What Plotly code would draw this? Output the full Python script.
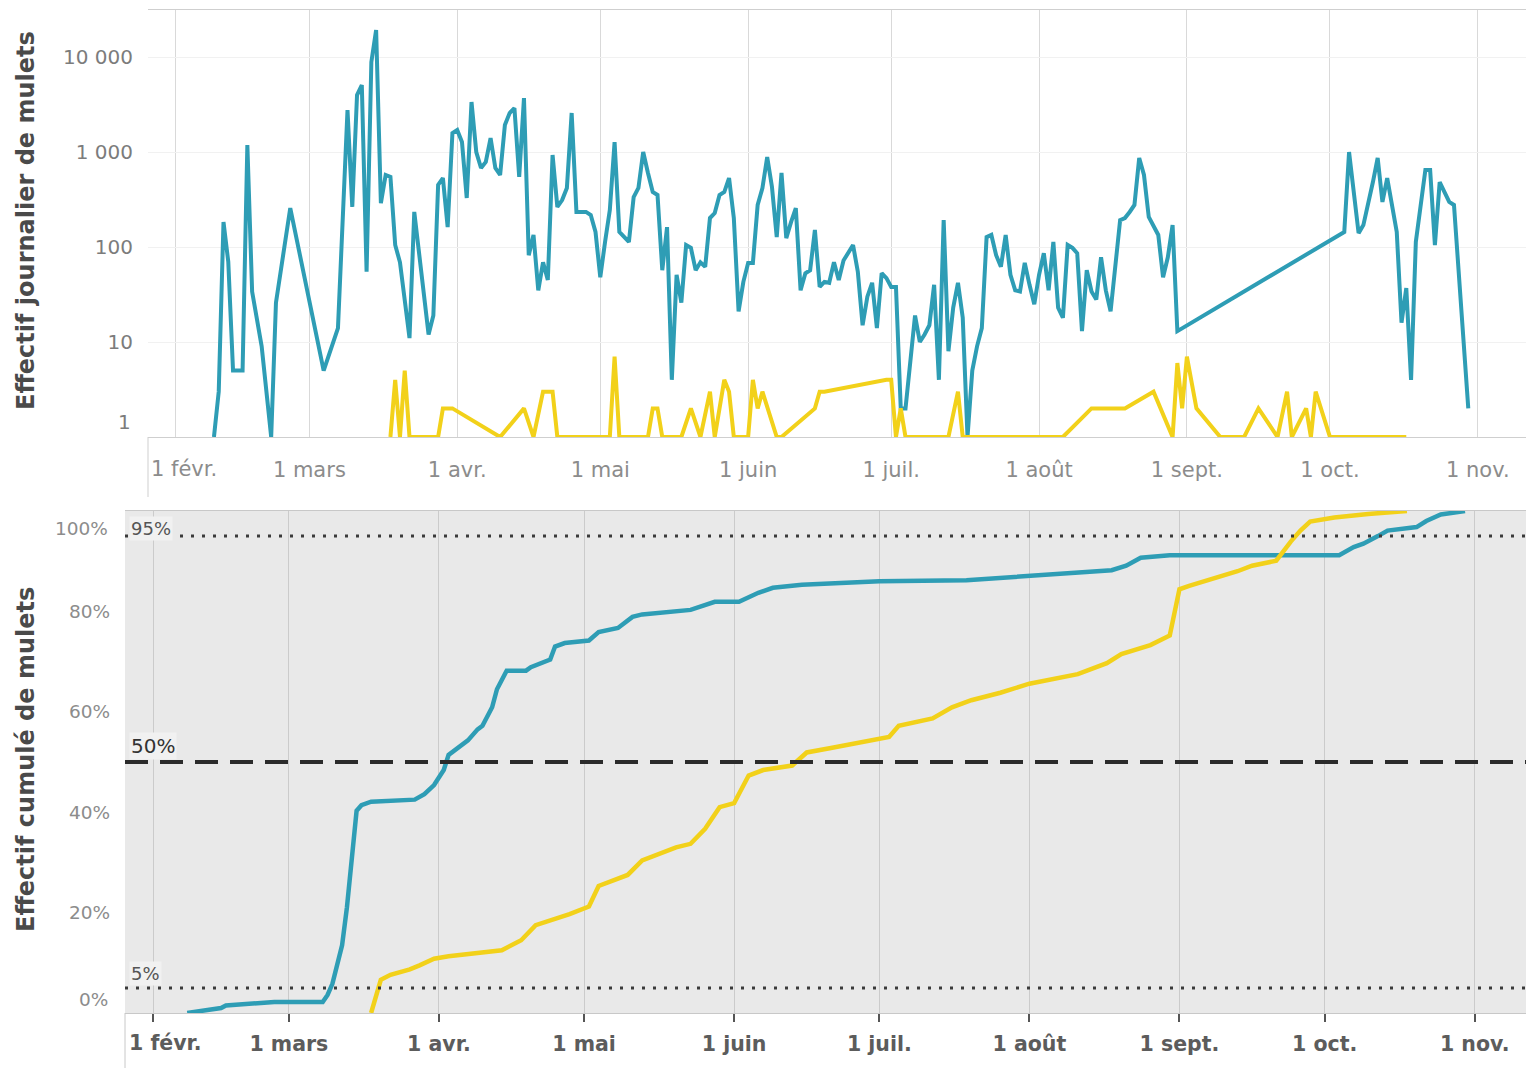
import pandas as pd
import plotly.graph_objects as go

START = pd.Timestamp("2021-02-01")

# ---- Top panel: daily counts (day = days since 1 Feb) ----
blue_day = [8, 9, 10, 11, 12, 13, 14, 15, 16, 18, 20, 21, 24, 31, 34, 36, 37, 38, 39, 40, 41, 42, 43, 44, 45, 46, 47, 49, 50,
            53, 54, 55, 56, 57, 58, 59, 60, 61, 62, 63, 64, 65, 66, 67, 68, 69, 70, 71, 72, 73, 74, 75, 76, 77, 78, 79, 80,
            81, 82, 83, 84, 86, 87, 88, 89, 90, 91, 92, 93, 95, 96, 97, 98, 99, 100, 101, 102, 103, 104, 105, 106, 107, 108,
            109, 110, 111, 112, 113, 114, 115, 116, 117, 118, 119, 120, 121, 122, 123, 124, 125, 126, 127, 128, 129, 130,
            131, 132, 133, 134, 135, 136, 137, 138, 139, 140, 142, 143, 144, 145, 146, 147, 148, 149, 150, 151, 152, 153,
            155, 156, 157, 158, 159, 160, 161, 162, 163, 164, 165, 166, 167, 168, 169, 170, 171, 172, 173, 174, 175, 176,
            177, 178, 179, 180, 181, 182, 183, 184, 185, 186, 187, 188, 189, 190, 191, 192, 193, 194, 195, 196, 198, 199,
            200, 201, 202, 203, 204, 205, 206, 207, 208, 209, 210, 245, 246, 248, 249, 251, 252, 253, 254, 256, 257, 258,
            259, 260, 262, 263, 264, 265, 266, 267, 268, 271]
blue_count = [1, 3, 183, 70, 5, 5, 5, 1185, 34, 9, 1, 26, 257, 5, 14, 2770, 264, 3980, 5070, 55, 8850, 19230, 290, 573, 546,
              105, 69, 11, 234,
              12, 19, 450, 532, 162, 1585, 1705, 1274, 328, 3360, 1000, 679, 785, 1403, 679, 573, 1923, 2575, 2900, 546,
              3700, 82, 134, 35, 69, 45, 930, 264,
              312, 418, 2575, 234, 234, 217, 144, 48, 113, 245, 1274, 144, 113, 336, 418, 1000, 601, 379, 353, 57, 162, 4,
              51, 26, 105, 98,
              57, 69, 62, 202, 228, 353, 379, 532, 202, 21, 43, 68, 68, 277, 418, 886, 428, 127, 601, 124, 183, 257,
              35, 53, 57, 151, 38, 43, 42, 69, 45, 72, 105, 55, 15, 30, 42, 14, 53, 47, 38, 38, 2, 2,
              19, 10, 12, 15, 40, 4, 192, 8, 23, 42, 18, 1, 5, 9, 14, 127, 134, 82, 62, 134, 51, 35,
              34, 68, 40, 25, 51, 86, 35, 113, 23, 18, 105, 98, 86, 13, 57, 34, 28, 78, 35, 21, 192, 202,
              234, 277, 865, 573, 207, 170, 134, 48, 78, 170, 13, 144, 1000, 140, 170, 483, 865, 298, 532, 144, 16, 37,
              4, 113, 646, 646, 105, 483, 379, 298, 277, 2]

yellow_day = [45, 46, 47, 48, 49, 55, 56, 57, 58, 68, 73, 75, 77, 79, 80, 91, 92, 93, 99, 100, 101, 102, 106, 108, 110,
              112, 113, 115, 116, 117, 120, 121, 122, 123, 126, 127, 134, 135, 136, 149, 150, 151, 152, 153, 162, 164,
              165, 186, 192, 199, 205, 209, 210, 211, 212, 214, 219, 224, 227, 231, 233, 234, 237, 238, 239, 242, 258]
yellow_count = [1, 4, 1, 5, 1, 1, 2, 2, 2, 1, 2, 1, 3, 3, 1, 1, 7, 1, 1, 2, 2, 1, 1, 2, 1,
                3, 1, 4, 3, 1, 1, 4, 2, 3, 1, 1, 2, 3, 3, 4, 4, 1, 2, 1, 1, 3,
                1, 1, 2, 2, 3, 1, 6, 2, 7, 2, 1, 1, 2, 1, 3, 1, 2, 1, 3, 1, 1]

# ---- Bottom panel: cumulative share (%) ----
cum_blue_day = [7, 14, 15, 23, 25, 35, 36, 37, 38, 39, 40, 41, 42, 43, 45, 54, 56, 58, 60, 61, 63, 65, 67, 68, 70,
                71, 73, 77, 78, 82, 83, 85, 90, 92, 96, 99, 101, 107, 111, 116, 121, 125, 128, 134, 150,
                168, 182, 198, 201, 204, 210, 245, 248, 250, 253, 255, 261, 263, 266, 271]
cum_blue_pct = [0, 1.0, 1.5, 1.9, 2.2, 2.2, 3.6, 5.8, 9.5, 13.5, 21, 31, 40.3, 41.4, 42.1, 42.5, 43.6, 45.4, 48.4, 51.4,
                52.8, 54.3, 56.5, 57.2, 60.9, 64.5, 68.2, 68.2, 68.9, 70.4, 73, 73.7, 74.2, 75.9, 76.7, 78.9, 79.4, 80,
                80.3, 81.9, 81.9, 83.7, 84.7, 85.3, 86.0, 86.2, 87.2, 88.2, 89.1, 90.7, 91.2, 91.2, 92.8, 93.5, 95, 96.1,
                96.8, 98, 99.3, 100]
cum_yellow_day = [45, 46, 47, 49, 53, 55, 58, 61, 68, 72, 76, 79, 86, 90, 92, 98, 101, 108, 111, 114, 117, 120, 123,
                  126, 132, 135, 140, 152, 154, 161, 165, 169, 175, 181, 191, 197, 200, 206, 210, 212, 214, 218, 224,
                  227, 232, 235, 237, 239, 244, 251, 259]
cum_yellow_pct = [0, 3.6, 6.6, 7.6, 8.7, 9.5, 10.8, 11.3, 12, 12.5, 14.5, 17.5, 19.7, 21.2, 25.3, 27.5, 30.4, 33, 33.7,
                  36.7, 41, 41.8, 47.3, 48.4, 49.3, 51.9, 52.8, 55, 57.2, 58.7, 60.9, 62.3, 63.8, 65.6, 67.5, 69.7, 71.5,
                  73.3, 75.2, 84.4, 85.1, 86.2, 88, 89.1, 90.1, 93.9, 96.1, 97.9, 98.7, 99.4, 100]

# ---- Axis labels ----
month_dates = ["2021-02-01", "2021-03-01", "2021-04-01", "2021-05-01", "2021-06-01",
               "2021-07-01", "2021-08-01", "2021-09-01", "2021-10-01", "2021-11-01"]
month_labels = ["1 févr.", "1 mars", "1 avr.", "1 mai", "1 juin", "1 juil.", "1 août", "1 sept.", "1 oct.", "1 nov."]
count_ticks = [10, 100, 1000, 10000]
count_tick_labels = ["10", "100", "1 000", "10 000"]
pct_ticks = [20, 40, 60, 80]
pct_tick_labels = ["20%", "40%", "60%", "80%"]
thresholds = [5, 50, 95]
threshold_labels = ["5%", "50%", "95%"]

BLUE = "#2E9DB5"
YELLOW = "#F2D11A"
FONT = "DejaVu Sans"
W, H = 1526, 1068


def to_dates(days):
    return [(START + pd.Timedelta(days=float(d))).strftime("%Y-%m-%d %H:%M") for d in days]


def px_x(p):
    return p / W


def px_y(p):
    return 1 - p / H


# first month label is nudged inside the panel (drawn as annotation below)
axis_month_text = [""] + month_labels[1:]

TOP_TICKFONT = dict(size=21, color="#8c8c8c")
BOT_TICKFONT = dict(size=20.5, color="#5c5c5c", weight="bold")

fig = go.Figure()
fig.add_trace(go.Scatter(x=to_dates(blue_day), y=blue_count, mode="lines",
                         line=dict(color=BLUE, width=4), xaxis="x", yaxis="y", showlegend=False))
fig.add_trace(go.Scatter(x=to_dates(yellow_day), y=yellow_count, mode="lines",
                         line=dict(color=YELLOW, width=4), xaxis="x", yaxis="y", showlegend=False))
fig.add_trace(go.Scatter(x=to_dates(cum_blue_day), y=cum_blue_pct, mode="lines",
                         line=dict(color=BLUE, width=4.5), xaxis="x2", yaxis="y2", showlegend=False))
fig.add_trace(go.Scatter(x=to_dates(cum_yellow_day), y=cum_yellow_pct, mode="lines",
                         line=dict(color=YELLOW, width=4.5), xaxis="x2", yaxis="y2", showlegend=False))

top_range = to_dates([-5.83, 283.1])
bot_range = to_dates([-5.85, 283.6])

fig.update_layout(
    template="none",
    width=W, height=H,
    margin=dict(l=0, r=0, t=0, b=0, pad=0),
    paper_bgcolor="white", plot_bgcolor="rgba(0,0,0,0)",
    font=dict(family=FONT),
    xaxis=dict(domain=[px_x(148), 1], anchor="y", type="date", range=top_range, automargin=False,
               tickvals=month_dates, ticktext=axis_month_text,
               tickfont=TOP_TICKFONT, ticks="", ticklabelstandoff=14,
               showgrid=True, gridcolor="#d9d9d9", gridwidth=1,
               showline=True, linecolor="#cfcfcf", linewidth=1, mirror=True, zeroline=False),
    yaxis=dict(domain=[px_y(437), px_y(10)], anchor="x", type="log", range=[0, 4.495], automargin=False,
               tickvals=count_ticks, ticktext=count_tick_labels,
               tickfont=dict(size=20, color="#7c7c7c"), ticks="", ticklabelstandoff=14,
               showgrid=True, gridcolor="#f1f1f1", zeroline=False, showline=False),
    xaxis2=dict(domain=[px_x(125), 1], anchor="y2", type="date", range=bot_range, automargin=False,
                tickvals=month_dates, ticktext=axis_month_text,
                tickfont=BOT_TICKFONT,
                ticks="outside", ticklen=8, tickwidth=1.5, tickcolor="#555555", ticklabelstandoff=4,
                showgrid=True, gridcolor="#cbcbcb", gridwidth=1,
                showline=True, linecolor="#c8c8c8", linewidth=1, mirror=True, zeroline=False),
    yaxis2=dict(domain=[px_y(1013), px_y(511)], anchor="x2", range=[0, 100], automargin=False,
                tickvals=pct_ticks, ticktext=pct_tick_labels,
                tickfont=dict(size=18.5, color="#8c8c8c"), ticks="", ticklabelstandoff=14,
                showgrid=False, zeroline=False, showline=False),
)

shapes = [
    dict(type="rect", xref="x2 domain", yref="y2 domain", x0=0, x1=1, y0=0, y1=1,
         fillcolor="#e9e9e9", line=dict(width=0), layer="below"),
    dict(type="line", xref="paper", yref="paper", x0=px_x(148), x1=px_x(148), y0=px_y(497), y1=px_y(437),
         line=dict(color="#cfcfcf", width=1)),
    dict(type="line", xref="paper", yref="paper", x0=px_x(125), x1=px_x(125), y0=0, y1=px_y(1013),
         line=dict(color="#c8c8c8", width=1)),
]
for t in thresholds:
    if t == 50:
        ln = dict(color="#2b2b2b", width=4, dash="23px,12px")
    else:
        ln = dict(color="#3a3a3a", width=3, dash="3px,8px")
    shapes.append(dict(type="line", xref="x2 domain", yref="y2", x0=0, x1=1, y0=t, y1=t, line=ln))
fig.update_layout(shapes=shapes)

annotations = [
    dict(text="Effectif journalier de mulets", xref="paper", yref="paper", x=px_x(26), y=px_y(221),
         textangle=-90, showarrow=False, font=dict(size=24, color="#4a4a4a", weight="bold"),
         xanchor="center", yanchor="middle"),
    dict(text="Effectif cumulé de mulets", xref="paper", yref="paper", x=px_x(26), y=px_y(760),
         textangle=-90, showarrow=False, font=dict(size=24, color="#4a4a4a", weight="bold"),
         xanchor="center", yanchor="middle"),
    dict(text="1", xref="paper", yref="y", x=px_x(133), y=0, yshift=15, showarrow=False,
         xanchor="right", yanchor="middle", font=dict(size=20, color="#7c7c7c")),
    dict(text="0%", xref="paper", yref="y2", x=px_x(110), y=0, yshift=14, showarrow=False,
         xanchor="right", yanchor="middle", font=dict(size=18.5, color="#8c8c8c")),
    dict(text="100%", xref="paper", yref="y2", x=px_x(110), y=100, yshift=-17, showarrow=False,
         xanchor="right", yanchor="middle", font=dict(size=18.5, color="#8c8c8c")),
    dict(text=month_labels[0], xref="x domain", yref="paper", x=0, xshift=1, y=px_y(469), showarrow=False,
         xanchor="left", yanchor="middle", font=TOP_TICKFONT),
    dict(text=month_labels[0], xref="x2 domain", yref="paper", x=0, xshift=2, y=px_y(1043), showarrow=False,
         xanchor="left", yanchor="middle", font=BOT_TICKFONT),
]
label_shift = {5: 2, 50: 2, 95: -5}
for t, lab in zip(thresholds, threshold_labels):
    big = (t == 50)
    annotations.append(dict(text=lab, xref="x2 domain", yref="y2", x=0.003, y=t, yshift=label_shift[t],
                            xanchor="left", yanchor="bottom", showarrow=False,
                            bgcolor="#f1f1f1", borderpad=1,
                            font=dict(size=20 if big else 18, color="#333333" if big else "#555555")))
fig.update_layout(annotations=annotations)

fig.write_html("out.html", config={"displayModeBar": False},
               post_script="document.body.style.margin='0px';")
